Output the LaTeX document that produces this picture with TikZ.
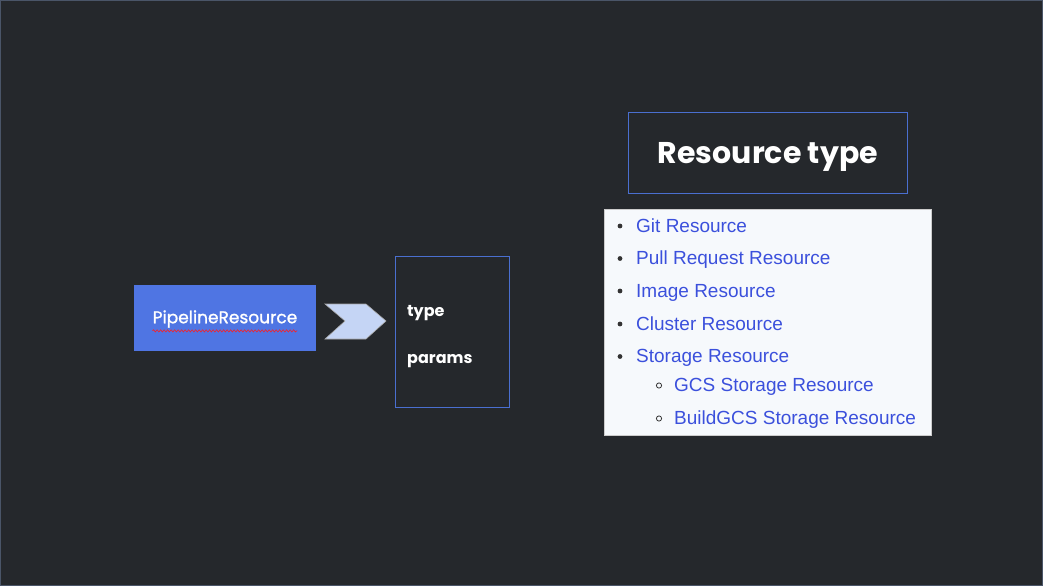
\documentclass[tikz,border=0pt]{standalone}
\usepackage{fontspec}
\setmainfont{Liberation Sans}
\newfontfamily\roundfont{Poppins}
\newfontfamily\roundmed[FakeBold=1.2]{Poppins}
\usetikzlibrary{decorations.pathmorphing}
\definecolor{bgc}{HTML}{25282C}
\definecolor{frame}{HTML}{4A5568}
\definecolor{pblue}{HTML}{4F75E3}
\definecolor{bline}{HTML}{4A6FD0}
\definecolor{chev}{HTML}{C5D5F5}
\definecolor{panel}{HTML}{F6F9FC}
\definecolor{link}{HTML}{3B50DC}
\definecolor{dotc}{HTML}{333333}
\tikzset{
  hand/.style={font=\roundfont\bfseries, text=white, inner sep=0pt},
  item/.style={font=\fontsize{19}{21}\selectfont, text=link, anchor=base west, inner sep=0pt},
  bul/.style={fill=dotc, draw=none},
  subbul/.style={draw=dotc, line width=0.8pt, fill=none},
}
\begin{document}
\begin{tikzpicture}[x=1pt,y=-1pt]
\useasboundingbox (0,0) rectangle (1043,586);
\fill[bgc] (0,0) rectangle (1043,586);
\draw[frame, line width=1pt] (0.5,0.5) rectangle (1042.5,585.5);
% PipelineResource box
\node[fill=pblue, minimum width=182pt, minimum height=66pt, inner sep=0pt, anchor=north west] (pr) at (134,285) {};
\node[hand, font=\roundmed\fontsize{17}{20}\selectfont, anchor=center] (prt) at (225,319) {PipelineResource};
\draw[red!85!pink, line width=0.6pt, decorate, decoration={snake, amplitude=1.1pt, segment length=3.5pt}] (prt.south west) ++(0,3) coordinate (u1) -- (prt.south east |- u1);
% chevron
\coordinate (c1) at (325,304);
\coordinate (c2) at (366,304);
\coordinate (c3) at (386,321);
\coordinate (c4) at (366,339);
\coordinate (c5) at (325,339);
\coordinate (c6) at (345,321);
\draw[fill=chev, draw=gray!70, line width=0.6pt] (c1) -- (c2) -- (c3) -- (c4) -- (c5) -- (c6) -- cycle;
% type/params box
\node[draw=bline, line width=0.8pt, minimum width=114pt, minimum height=151pt, inner sep=0pt, anchor=north west] (tp) at (395,256) {};
\node[hand, font=\roundfont\bfseries\fontsize{16}{18}\selectfont, anchor=base west] (ty) at (407,316) {type};
\node[hand, font=\roundfont\bfseries\fontsize{16}{18}\selectfont, anchor=base west] (pa) at (407,363) {params};
% title box
\node[draw=bline, line width=0.8pt, minimum width=279pt, minimum height=81pt, inner sep=0pt, anchor=north west] (tb) at (628,112) {};
\node[hand, font=\roundfont\bfseries\fontsize{30}{32}\selectfont, anchor=center] (tt) at ([yshift=-4pt]tb.center) {Resource type};
% list panel
\node[fill=panel, draw=gray!40, line width=0.4pt, minimum width=327pt, minimum height=226pt, inner sep=0pt, anchor=north west] (lp) at (604,209) {};
\node[item] (i1) at (636,232) {Git Resource};
\node[item] (i2) at (636,264.5) {Pull Request Resource};
\node[item] (i3) at (636,297) {Image Resource};
\node[item] (i4) at (636,330) {Cluster Resource};
\node[item] (i5) at (636,362.5) {Storage Resource};
\node[item] (i6) at (674,391.5) {GCS Storage Resource};
\node[item] (i7) at (674,424.5) {BuildGCS Storage Resource};
\foreach \y in {226,258.5,291,324,356.5} \fill[bul] (620,\y) circle (2.4);
\foreach \y in {385.5,418.5} \draw[subbul] (659,\y) circle (2.6);
\end{tikzpicture}
\end{document}
